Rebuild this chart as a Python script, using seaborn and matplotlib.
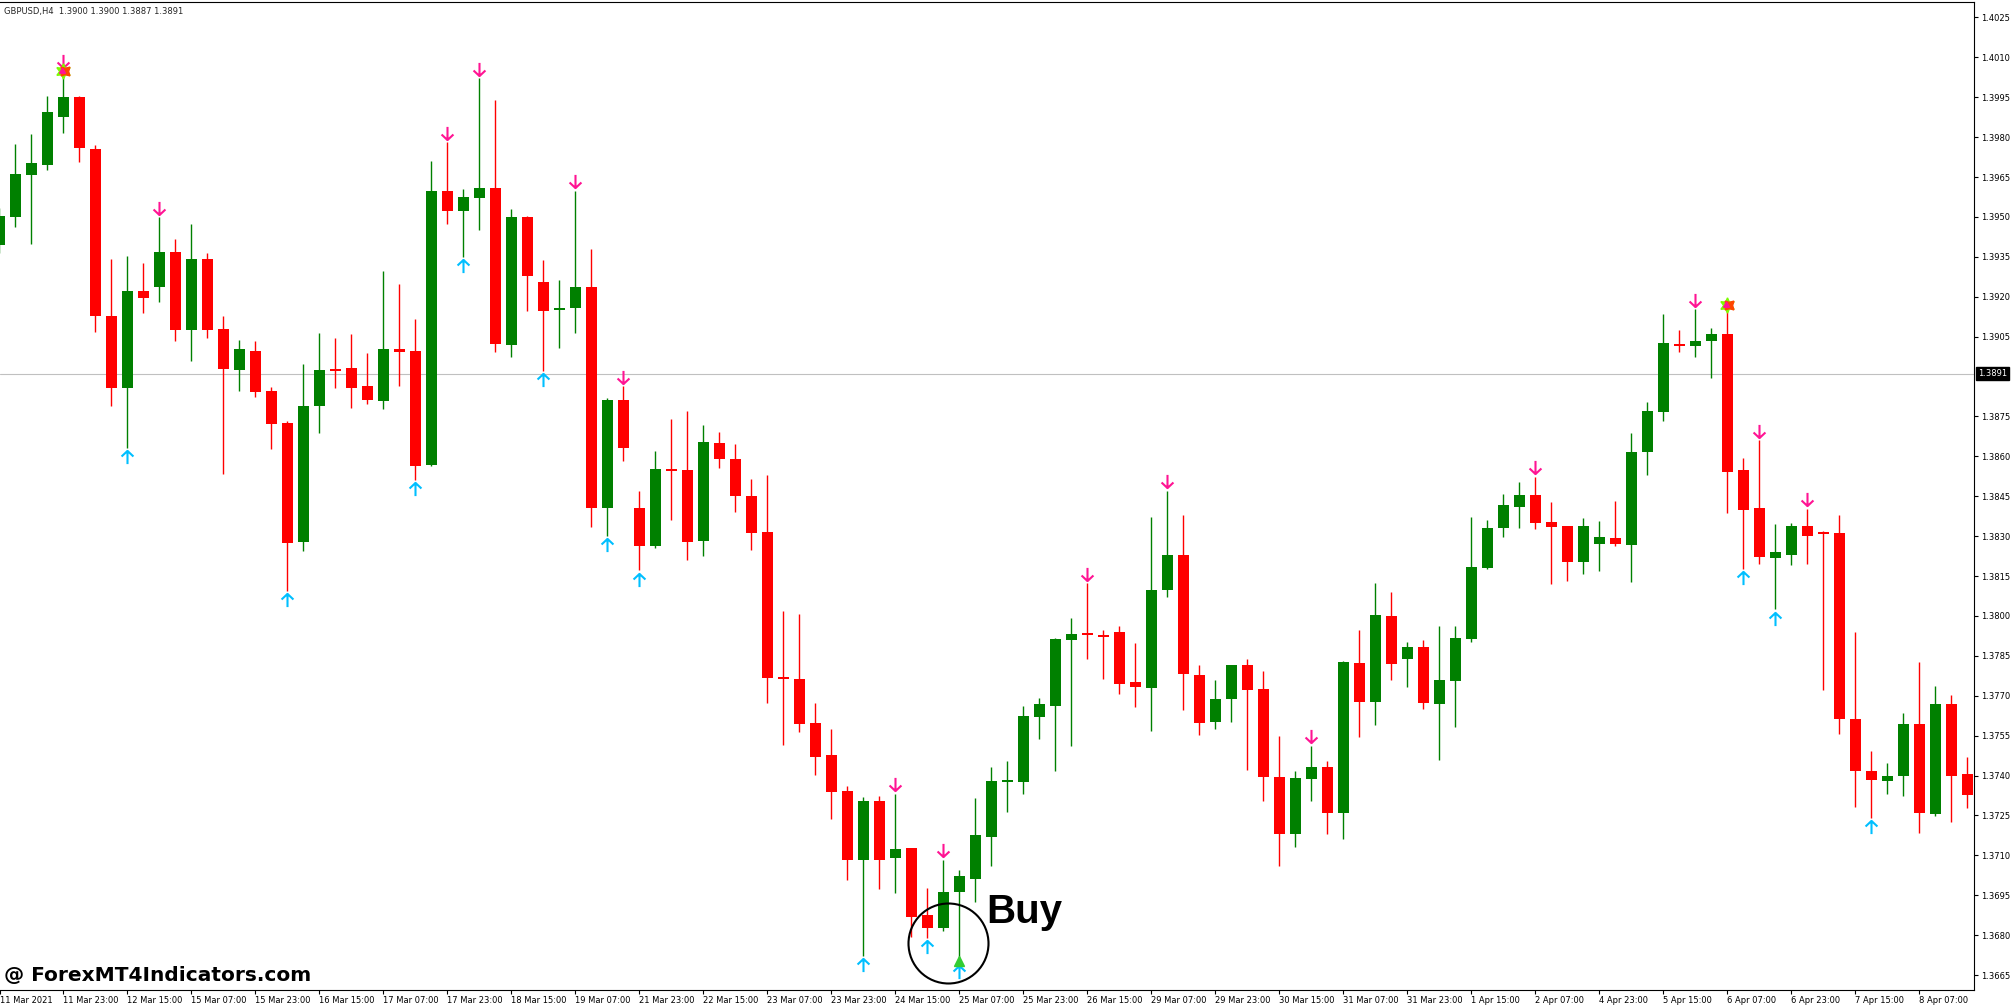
import numpy as np
import pandas as pd
import matplotlib
matplotlib.use("Agg")
import matplotlib.pyplot as plt
from matplotlib.path import Path
import seaborn as sns

# chart header / current price
header_text = "GBPUSD,H4  1.3900 1.3900 1.3887 1.3891"
last_price = 1.3891

# H4 candles, 11 Mar 2021 07:00 .. 8 Apr 2021
opens = [1.39394, 1.39500, 1.39657, 1.39696, 1.39877, 1.39951, 1.39756, 1.39127, 1.38857, 1.39221,
         1.39238, 1.39368, 1.39076, 1.39341, 1.39079, 1.38924, 1.38996, 1.38847, 1.38726, 1.38278,
         1.38789, 1.38925, 1.38931, 1.38864, 1.38808, 1.39004, 1.38996, 1.38567, 1.39597, 1.39522,
         1.39570, 1.39609, 1.39018, 1.39500, 1.39254, 1.39153, 1.39158, 1.39238, 1.38406, 1.38813,
         1.38406, 1.38263, 1.38550, 1.38548, 1.38283, 1.38652, 1.38591, 1.38452, 1.38316, 1.37769,
         1.37764, 1.37598, 1.37477, 1.37342, 1.37084, 1.37306, 1.37089, 1.37128, 1.36877, 1.36828,
         1.36961, 1.37012, 1.37169, 1.37378, 1.37376, 1.37622, 1.37663, 1.37909, 1.37933, 1.37930,
         1.37940, 1.37752, 1.37728, 1.38097, 1.38230, 1.37779, 1.37600, 1.37689, 1.37815, 1.37726,
         1.37395, 1.37181, 1.37388, 1.37434, 1.37260, 1.37824, 1.37677, 1.38000, 1.37839, 1.37885,
         1.37670, 1.37757, 1.37914, 1.38181, 1.38331, 1.38410, 1.38454, 1.38353, 1.38338, 1.38203,
         1.38271, 1.38292, 1.38268, 1.38615, 1.38767, 1.39023, 1.39013, 1.39033, 1.39059, 1.38548,
         1.38406, 1.38218, 1.38230, 1.38338, 1.38314, 1.38312, 1.37612, 1.37417, 1.37378, 1.37398,
         1.37595, 1.37255, 1.37670, 1.37407]
highs = [1.39532, 1.39775, 1.39812, 1.39954, 1.40050, 1.39955, 1.39771, 1.39341, 1.39353, 1.39327,
         1.39500, 1.39416, 1.39474, 1.39365, 1.39127, 1.39037, 1.39035, 1.38861, 1.38734, 1.38948,
         1.39064, 1.39045, 1.39059, 1.38987, 1.39298, 1.39247, 1.39115, 1.39710, 1.39780, 1.39604,
         1.40021, 1.39939, 1.39529, 1.39505, 1.39339, 1.39264, 1.39599, 1.39378, 1.38820, 1.38864,
         1.38471, 1.38620, 1.38741, 1.38770, 1.38719, 1.38693, 1.38647, 1.38514, 1.38531, 1.38020,
         1.38008, 1.37672, 1.37576, 1.37361, 1.37320, 1.37325, 1.37332, 1.37128, 1.36978, 1.37084,
         1.37045, 1.37316, 1.37434, 1.37456, 1.37663, 1.37692, 1.37917, 1.37993, 1.38124, 1.37947,
         1.37964, 1.37899, 1.38372, 1.38471, 1.38379, 1.37817, 1.37759, 1.37815, 1.37839, 1.37793,
         1.37550, 1.37417, 1.37513, 1.37456, 1.37832, 1.37947, 1.38124, 1.38090, 1.37904, 1.37909,
         1.37964, 1.37962, 1.38372, 1.38362, 1.38459, 1.38505, 1.38524, 1.38430, 1.38338, 1.38370,
         1.38357, 1.38432, 1.38688, 1.38804, 1.39136, 1.39076, 1.39153, 1.39083, 1.39170, 1.38594,
         1.38661, 1.38345, 1.38350, 1.38403, 1.38321, 1.38379, 1.37940, 1.37492, 1.37448, 1.37636,
         1.37827, 1.37738, 1.37704, 1.37468]
lows = [1.39363, 1.39462, 1.39397, 1.39677, 1.39816, 1.39705, 1.39069, 1.38789, 1.38632, 1.39139,
        1.39180, 1.39035, 1.38958, 1.39045, 1.38533, 1.38847, 1.38823, 1.38627, 1.38095, 1.38244,
        1.38688, 1.38857, 1.38782, 1.38796, 1.38779, 1.38864, 1.38512, 1.38565, 1.39474, 1.39351,
        1.39452, 1.38992, 1.38975, 1.39146, 1.38922, 1.39009, 1.39064, 1.38336, 1.38302, 1.38582,
        1.38172, 1.38254, 1.38362, 1.38210, 1.38225, 1.38558, 1.38391, 1.38249, 1.37672, 1.37516,
        1.37562, 1.37402, 1.37236, 1.37007, 1.36722, 1.36973, 1.36959, 1.36795, 1.36790, 1.36816,
        1.36698, 1.36923, 1.37060, 1.37263, 1.37330, 1.37537, 1.37419, 1.37513, 1.37837, 1.37762,
        1.37706, 1.37656, 1.37566, 1.38073, 1.37646, 1.37554, 1.37574, 1.37600, 1.37422, 1.37304,
        1.37062, 1.37130, 1.37306, 1.37181, 1.37161, 1.37545, 1.37591, 1.37759, 1.37733, 1.37651,
        1.37458, 1.37583, 1.37902, 1.38177, 1.38297, 1.38331, 1.38326, 1.38121, 1.38131, 1.38157,
        1.38169, 1.38263, 1.38128, 1.38531, 1.38734, 1.38992, 1.38972, 1.38895, 1.38386, 1.38177,
        1.38196, 1.38025, 1.38191, 1.38196, 1.37723, 1.37557, 1.37282, 1.37241, 1.37330, 1.37323,
        1.37185, 1.37248, 1.37226, 1.37279]
closes = [1.39503, 1.39662, 1.39703, 1.39894, 1.39951, 1.39759, 1.39127, 1.38857, 1.39221, 1.39194,
          1.39368, 1.39076, 1.39341, 1.39076, 1.38929, 1.39004, 1.38842, 1.38722, 1.38275, 1.38789,
          1.38924, 1.38922, 1.38857, 1.38813, 1.39004, 1.38992, 1.38565, 1.39597, 1.39522, 1.39575,
          1.39609, 1.39023, 1.39500, 1.39279, 1.39146, 1.39158, 1.39238, 1.38406, 1.38813, 1.38632,
          1.38263, 1.38553, 1.38546, 1.38278, 1.38654, 1.38589, 1.38452, 1.38312, 1.37767, 1.37764,
          1.37595, 1.37470, 1.37340, 1.37084, 1.37306, 1.37084, 1.37125, 1.36869, 1.36828, 1.36963,
          1.37021, 1.37178, 1.37381, 1.37383, 1.37624, 1.37670, 1.37914, 1.37933, 1.37930, 1.37921,
          1.37745, 1.37733, 1.38097, 1.38230, 1.37781, 1.37598, 1.37689, 1.37815, 1.37723, 1.37393,
          1.37181, 1.37390, 1.37434, 1.37260, 1.37827, 1.37677, 1.38003, 1.37820, 1.37885, 1.37672,
          1.37759, 1.37919, 1.38184, 1.38331, 1.38418, 1.38454, 1.38350, 1.38333, 1.38203, 1.38338,
          1.38295, 1.38271, 1.38615, 1.38770, 1.39025, 1.39013, 1.39035, 1.39059, 1.38541, 1.38398,
          1.38220, 1.38242, 1.38338, 1.38302, 1.38309, 1.37612, 1.37417, 1.37383, 1.37400, 1.37595,
          1.37260, 1.37670, 1.37398, 1.37328]

# indicator signals (candle index)
sell_arrows = [4, 10, 28, 30, 36, 39, 56, 59, 68, 73, 82, 96, 106, 110, 113]
buy_arrows = [8, 18, 26, 29, 34, 38, 40, 54, 58, 60, 109, 111, 117]
star_marks = [4, 108]
buy_signal = 60

time_labels = ["11 Mar 2021", "11 Mar 23:00", "12 Mar 15:00", "15 Mar 07:00", "15 Mar 23:00",
               "16 Mar 15:00", "17 Mar 07:00", "17 Mar 23:00", "18 Mar 15:00", "19 Mar 07:00",
               "21 Mar 23:00", "22 Mar 15:00", "23 Mar 07:00", "23 Mar 23:00", "24 Mar 15:00",
               "25 Mar 07:00", "25 Mar 23:00", "26 Mar 15:00", "29 Mar 07:00", "29 Mar 23:00",
               "30 Mar 15:00", "31 Mar 07:00", "31 Mar 23:00", "1 Apr 15:00", "2 Apr 07:00",
               "4 Apr 23:00", "5 Apr 15:00", "6 Apr 07:00", "6 Apr 23:00", "7 Apr 15:00",
               "8 Apr 07:00"]
price_ticks = [1.3665, 1.3680, 1.3695, 1.3710, 1.3725, 1.3740, 1.3755, 1.3770, 1.3785, 1.3800,
               1.3815, 1.3830, 1.3845, 1.3860, 1.3875, 1.3905, 1.3920, 1.3935, 1.3950,
               1.3965, 1.3980, 1.3995, 1.4010, 1.4025]

GREEN = "#008000"
RED = "#FF0000"
PINK = "#FF1493"
BLUE = "#00BFFF"

sns.set_theme(style="white")
plt.rcParams['font.family'] = ['DejaVu Sans']

df = pd.DataFrame({"open": opens, "high": highs, "low": lows, "close": closes})
df["x"] = np.arange(len(df))
df["color"] = np.where(df["close"] >= df["open"], GREEN, RED)

fig = plt.figure(figsize=(20.11, 10.06), dpi=100)
ax = fig.add_axes([0, 16 / 1006, 1974 / 2011, 988 / 1006])
ax.set_facecolor("white")

# current price line
ax.axhline(last_price, color="#C0C0C0", lw=0.8, zorder=0)

# wicks + bodies
ax.vlines(df["x"], df["low"], df["high"], colors=df["color"], linewidth=1.0, zorder=2)
min_h = 0.00007
body = (df["close"] - df["open"]).abs()
mid = (df["close"] + df["open"]) / 2
height = np.maximum(body, min_h)
bottom = mid - height / 2
ax.bar(df["x"], height, bottom=bottom, width=0.69, color=df["color"], linewidth=0, zorder=3)

# arrows
down_path = Path([(0, 1), (0, -1), (-0.9, -0.15), (0, -1), (0.9, -0.15)],
                 [Path.MOVETO, Path.LINETO, Path.MOVETO, Path.LINETO, Path.LINETO])
up_path = Path([(0, -1), (0, 1), (-0.9, 0.15), (0, 1), (0.9, 0.15)],
               [Path.MOVETO, Path.LINETO, Path.MOVETO, Path.LINETO, Path.LINETO])
off = 0.00035
ax.plot(df.loc[sell_arrows, "x"], df.loc[sell_arrows, "high"] + off, linestyle="none",
        marker=down_path, markersize=9.5, mfc="none", mec=PINK, mew=1.5, zorder=4)
ax.plot(df.loc[buy_arrows, "x"], df.loc[buy_arrows, "low"] - off, linestyle="none",
        marker=up_path, markersize=9.5, mfc="none", mec=BLUE, mew=1.5, zorder=4)

# star signals (multicoloured)
star_x = df.loc[star_marks, "x"]
star_y = df.loc[star_marks, "high"]
ax.plot(star_x, star_y, linestyle="none", marker=(6, 1, 0), markersize=11,
        color="#7CFC00", zorder=5)
ax.plot(star_x + 0.1, star_y, linestyle="none", marker=(4, 1, 45), markersize=9,
        color="#FF4500", zorder=6)
ax.plot(star_x - 0.1, star_y, linestyle="none", marker=(3, 1, 0), markersize=5,
        color="#FF1493", zorder=6)
ax.plot(df.loc[[buy_signal], "x"], df.loc[[buy_signal], "low"] + 0.00005, linestyle="none",
        marker="^", markersize=7, color="#32CD32", zorder=5)

# Buy annotation
ax.plot(59.3, 1.36771, marker="o", markersize=57.6, mfc="none", mec="black", mew=1.5, zorder=6)
ax.text(61.7, 1.36888, "Buy", fontsize=29, fontweight="bold", family=["Liberation Sans"],
        va="center", ha="left", color="black", zorder=6)

ax.set_xlim(0.044, 123.42)
ax.set_ylim(1.36594, 1.40308)

# axes
ax.yaxis.tick_right()
ax.set_yticks(price_ticks)
ax.set_yticklabels([f"{p:.4f}" for p in price_ticks])
ax.tick_params(axis="y", direction="out", length=3, width=0.8, pad=2, labelsize=6, colors="black",
               right=True, left=False)
xt = [0.044] + list(range(4, 121, 4))
ax.set_xticks(xt)
ax.set_xticklabels(time_labels, ha="left")
ax.tick_params(axis="x", direction="out", length=3, width=0.8, pad=1, labelsize=6, colors="black",
               bottom=True)
for side in ["top", "right", "bottom"]:
    ax.spines[side].set_visible(True)
    ax.spines[side].set_color("black")
    ax.spines[side].set_linewidth(0.8)
ax.spines["left"].set_visible(False)
ax.grid(False)

ax.text(1.002, last_price, f"{last_price:.4f}", transform=ax.get_yaxis_transform(), fontsize=6,
        color="white", va="center", ha="left",
        bbox=dict(boxstyle="square,pad=0.25", fc="black", ec="black"))

ax.text(0.002, 0.990, header_text, transform=ax.transAxes, fontsize=6, va="center", ha="left")

fig.text(4 / 2011, 1 - 975 / 1006, "@ ForexMT4Indicators.com", fontsize=14.5, fontweight="bold",
         family=["DejaVu Sans"], va="center", ha="left", color="black")

fig.savefig("out.png", dpi=100, facecolor="white")
